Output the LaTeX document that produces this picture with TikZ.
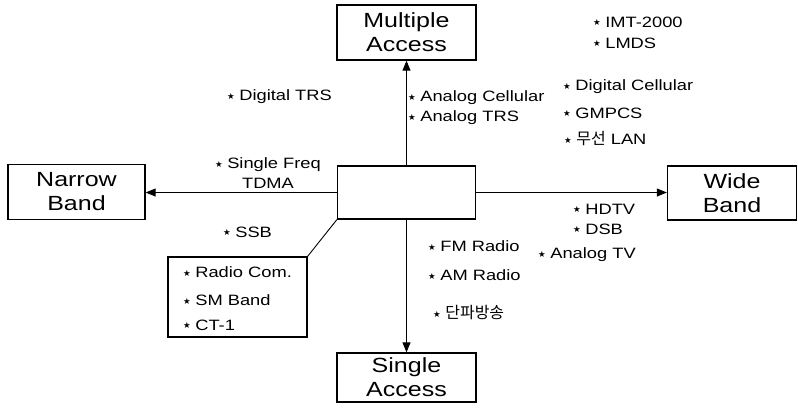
\documentclass[tikz,border=0pt]{standalone}
\usepackage{fontspec}
\setmainfont[FakeStretch=1.22]{Liberation Sans}
\newfontfamily\krfont{Noto Sans CJK KR}
\newfontfamily\symfont{DejaVu Sans}
\usetikzlibrary{arrows.meta}
\newcommand\bul{\raisebox{1.2pt}{\symfont\fontsize{8.5}{8.5}\selectfont ★}\hspace{0.3em}}
\tikzset{
  bigbox/.style={draw, line width=1.3pt, inner sep=0pt, font=\fontsize{20.5}{24}\selectfont, align=center},
  lab/.style={anchor=west, inner sep=0pt, font=\fontsize{15}{20}\selectfont},
  conn/.style={line width=0.9pt, -{Triangle[length=10pt,width=8pt]}},
}
\begin{document}
\begin{tikzpicture}[x=1pt,y=-1pt]
\useasboundingbox (0,0) rectangle (798,410);
% boxes
\node[bigbox, minimum width=139pt, minimum height=55pt] (ma) at (406.5,32.5) {Multiple\\Access};
\node[draw, line width=1.3pt, minimum width=138pt, minimum height=53pt, inner sep=0pt] (c) at (406.5,192.5) {};
\node[bigbox, minimum width=137pt, minimum height=55pt] (nb) at (76.5,192) {Narrow\\Band};
\node[bigbox, minimum width=129pt, minimum height=54pt] (wb) at (732,193) {Wide\\Band};
\node[bigbox, minimum width=139pt, minimum height=49pt] (sa) at (406.5,377.5) {Single\\Access};
\node[draw, line width=1.1pt, minimum width=139pt, minimum height=80pt, inner sep=0pt] (rc) at (237.5,297) {};
% connectors
\draw[conn] (c.north) -- (c.north |- ma.south);
\draw[conn] (c.west) -- (c.west -| nb.east);
\draw[conn] (c.east) -- (c.east -| wb.west);
\draw[conn] (c.south) -- (c.south |- sa.north);
\draw[line width=0.9pt] (c.south west) -- (rc.north east);
% labels
\node[lab] (l1) at (593,22) {\bul IMT-2000};
\node[lab] (l2) at (593,43) {\bul LMDS};
\node[lab] (l3) at (563,87) {\bul Digital Cellular};
\node[lab] (l4) at (563,113) {\bul GMPCS};
\node[lab] (l5) at (564,139) {\bul {\krfont\fontsize{16}{18}\selectfont 무선} LAN};
\node[lab] (l6) at (227,97) {\bul Digital TRS};
\node[lab] (l7) at (408,98) {\bul Analog Cellular};
\node[lab] (l8) at (408,118) {\bul Analog TRS};
\node[inner sep=0pt, align=center, font=\fontsize{15}{20}\selectfont] (l9) at (268,173) {\bul Single Freq\\TDMA};
\node[lab] (l10) at (223,232) {\bul SSB};
\node[lab] (l11) at (573,209) {\bul HDTV};
\node[lab] (l12) at (573,229) {\bul DSB};
\node[lab] (l13) at (538,255) {\bul Analog TV};
\node[lab] (l14) at (428,246) {\bul FM Radio};
\node[lab] (l15) at (428,275) {\bul AM Radio};
\node[lab] (l16) at (433,313) {\bul {\krfont\fontsize{16}{18}\selectfont 단파방송}};
\node[lab] (l17) at (183,272) {\bul Radio Com.};
\node[lab] (l18) at (183,300) {\bul SM Band};
\node[lab] (l19) at (183,325) {\bul CT-1};
\end{tikzpicture}
\end{document}
